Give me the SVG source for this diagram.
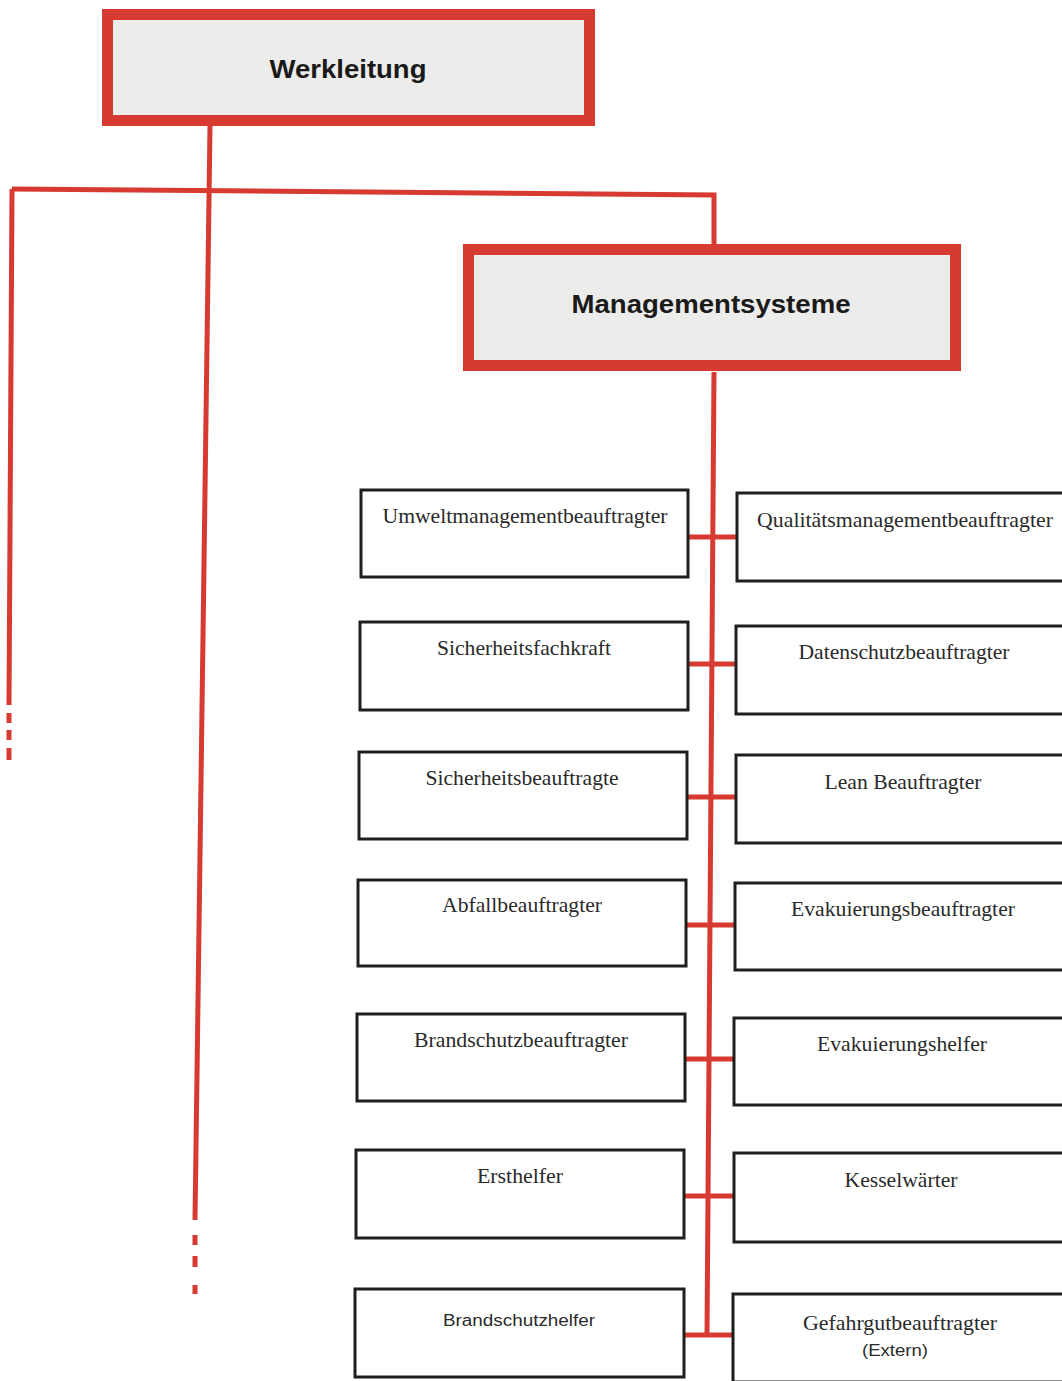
<svg xmlns="http://www.w3.org/2000/svg" width="1062" height="1381" viewBox="0 0 1062 1381">
<style>
.red{stroke:#d63a30;stroke-width:5;fill:none;stroke-linecap:butt}
.head{fill:#ececea;stroke:#d63a30;stroke-width:11}
.headt{font-family:"Liberation Sans",Arial,sans-serif;font-weight:bold;font-size:26px;fill:#1a1a1a;text-anchor:middle}
.box{fill:#ffffff;stroke:#1e1e1e;stroke-width:3}
.t{font-family:"Liberation Serif","Times New Roman",serif;font-size:21px;fill:#2a2a2a;text-anchor:middle}
.s{font-family:"Liberation Sans",Arial,sans-serif;font-size:16px;fill:#2a2a2a;text-anchor:middle}
</style>
<rect width="1062" height="1381" fill="#ffffff"/>
<g id="connectors">
<path class="red" d="M210,126 L195,1220"/>
<path class="red" d="M195,1235 V1245 M195,1256 V1267 M195,1285 V1294"/>
<path class="red" d="M12,189 L714,195 L714,246"/>
<path class="red" d="M12,189 L9,705"/>
<path class="red" d="M9,713 V723 M9,730 V740 M9,748 V760"/>
<path class="red" d="M714,372 L707,1335"/>
<path class="red" d="M688,537 H737 M688,664 H736 M687,797 H736 M686,925 H735 M685,1059 H734 M684,1196 H734 M684,1335 H733"/>
</g>
<g id="werkleitung">
<rect class="head" x="107.5" y="14.5" width="482" height="106"/>
<text class="headt" x="348" y="78" textLength="157" lengthAdjust="spacingAndGlyphs">Werkleitung</text>
</g>
<g id="managementsysteme">
<rect class="head" x="468.5" y="249.5" width="487" height="116"/>
<text class="headt" x="711" y="313" textLength="279" lengthAdjust="spacingAndGlyphs">Managementsysteme</text>
</g>
<g id="umwelt"><rect class="box" x="361" y="490" width="327" height="87"/><text class="t" x="525" y="523" textLength="285" lengthAdjust="spacingAndGlyphs">Umweltmanagementbeauftragter</text></g>
<g id="qualitaet"><rect class="box" x="737" y="493" width="340" height="88"/><text class="t" x="905" y="527" textLength="296" lengthAdjust="spacingAndGlyphs">Qualitätsmanagementbeauftragter</text></g>
<g id="sicherheitsfachkraft"><rect class="box" x="360" y="622" width="328" height="88"/><text class="t" x="524" y="655" textLength="174" lengthAdjust="spacingAndGlyphs">Sicherheitsfachkraft</text></g>
<g id="datenschutz"><rect class="box" x="736" y="626" width="340" height="88"/><text class="t" x="904" y="659" textLength="211" lengthAdjust="spacingAndGlyphs">Datenschutzbeauftragter</text></g>
<g id="sicherheitsbeauftragte"><rect class="box" x="359" y="752" width="328" height="87"/><text class="t" x="522" y="785" textLength="193" lengthAdjust="spacingAndGlyphs">Sicherheitsbeauftragte</text></g>
<g id="lean"><rect class="box" x="736" y="755" width="340" height="88"/><text class="t" x="903" y="789" textLength="157" lengthAdjust="spacingAndGlyphs">Lean Beauftragter</text></g>
<g id="abfall"><rect class="box" x="358" y="880" width="328" height="86"/><text class="t" x="522" y="912" textLength="160" lengthAdjust="spacingAndGlyphs">Abfallbeauftragter</text></g>
<g id="evakuierungsbeauftragter"><rect class="box" x="735" y="883" width="340" height="87"/><text class="t" x="903" y="916" textLength="224" lengthAdjust="spacingAndGlyphs">Evakuierungsbeauftragter</text></g>
<g id="brandschutzbeauftragter"><rect class="box" x="357" y="1014" width="328" height="87"/><text class="t" x="521" y="1047" textLength="214" lengthAdjust="spacingAndGlyphs">Brandschutzbeauftragter</text></g>
<g id="evakuierungshelfer"><rect class="box" x="734" y="1018" width="340" height="87"/><text class="t" x="902" y="1051" textLength="170" lengthAdjust="spacingAndGlyphs">Evakuierungshelfer</text></g>
<g id="ersthelfer"><rect class="box" x="356" y="1150" width="328" height="88"/><text class="t" x="520" y="1183" textLength="86" lengthAdjust="spacingAndGlyphs">Ersthelfer</text></g>
<g id="kesselwaerter"><rect class="box" x="734" y="1153" width="340" height="89"/><text class="t" x="901" y="1187" textLength="113" lengthAdjust="spacingAndGlyphs">Kesselwärter</text></g>
<g id="brandschutzhelfer"><rect class="box" x="355" y="1289" width="329" height="88"/><text class="s" x="519" y="1326" textLength="152" lengthAdjust="spacingAndGlyphs">Brandschutzhelfer</text></g>
<g id="gefahrgut"><rect class="box" x="733" y="1294" width="340" height="88"/><text class="t" x="900" y="1330" textLength="194" lengthAdjust="spacingAndGlyphs">Gefahrgutbeauftragter</text><text class="s" x="895" y="1356" font-size="17" textLength="66" lengthAdjust="spacingAndGlyphs">(Extern)</text></g>
</svg>
